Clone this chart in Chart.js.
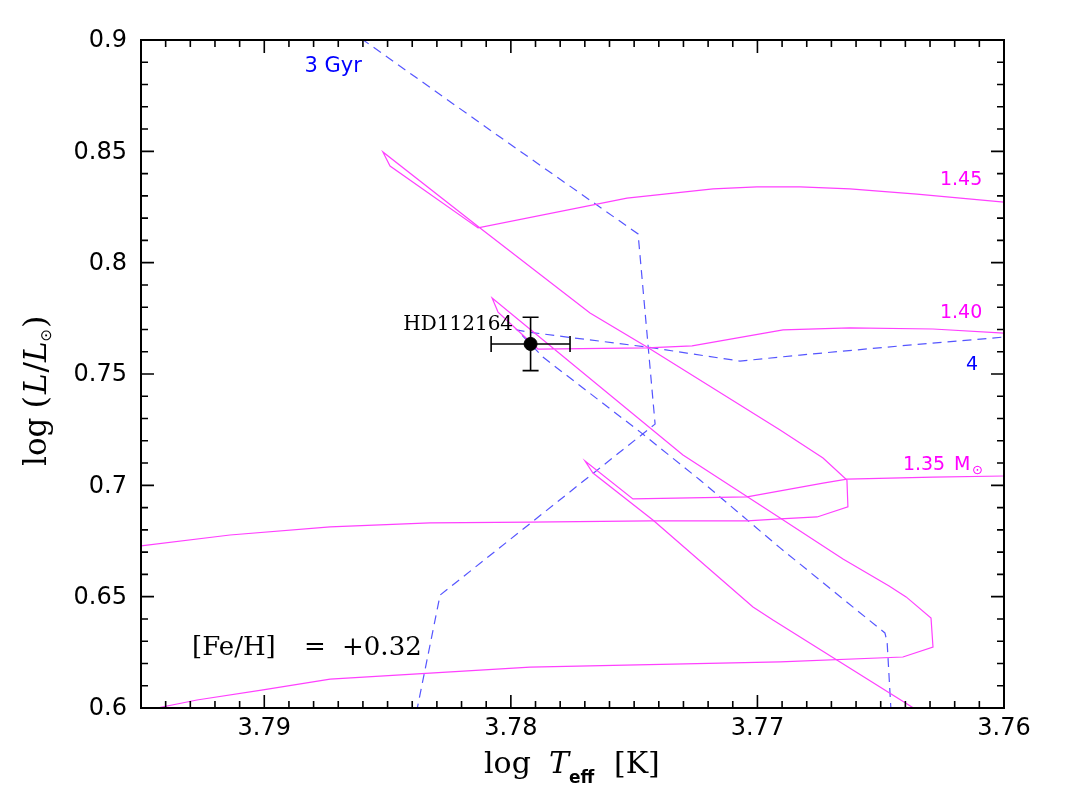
<!DOCTYPE html>
<html><head><meta charset="utf-8">
<script src="https://cdn.jsdelivr.net/npm/chart.js@4.4.1/dist/chart.umd.min.js"></script>
<style>html,body{margin:0;padding:0;background:#fff}canvas{display:block}</style>
</head><body>
<canvas id="c" width="1067" height="797"></canvas>
<script>
// ---- data (log Teff, log L/Lsun) ----
const track145T = [3.7950,3.79139,3.78733,3.78328,3.77922,3.77436,3.77042,3.76908,3.76758,3.76633,3.76637,3.76734,3.76908,3.77448,3.77679,3.78125,3.78519,3.78490,3.78133,3.77529,3.77180,3.77002,3.76827,3.76625,3.76353,3.7600];
const track145L = [0.6728,0.6777,0.6813,0.6831,0.6835,0.6840,0.6840,0.6849,0.6858,0.6903,0.7024,0.7123,0.7249,0.7621,0.7774,0.8156,0.8497,0.8434,0.8156,0.8290,0.8331,0.8340,0.8340,0.8331,0.8308,0.8272];
const track140T = [3.7950,3.79435,3.79273,3.79005,3.78733,3.78328,3.77922,3.76908,3.76410,3.76288,3.76296,3.76397,3.76466,3.76653,3.76908,3.77302,3.78076,3.78052,3.77890,3.77448,3.77265,3.76896,3.76625,3.76288,3.7600];
const track140L = [0.5987,0.6000,0.6036,0.6081,0.6130,0.6157,0.6184,0.6207,0.6229,0.6274,0.6404,0.6499,0.6548,0.6669,0.6853,0.7136,0.7841,0.7778,0.7612,0.7617,0.7626,0.7698,0.7707,0.7702,0.7684];
const track135T = [3.76341,3.76937,3.77018,3.77424,3.77667,3.77699,3.77505,3.77042,3.76734,3.76637,3.76288,3.7600];
const track135L = [0.5982,0.6395,0.6454,0.6844,0.7055,0.7109,0.6939,0.6948,0.7010,0.7028,0.7037,0.7042];
const iso3T = [3.78656,3.78044,3.77484,3.77415,3.78287,3.78385];
const iso3L = [0.9045,0.8564,0.8129,0.7275,0.6507,0.5969];
const iso4T = [3.76458,3.76474,3.76483,3.76908,3.77233,3.77476,3.77870,3.77975,3.77934,3.77772,3.77448,3.77286,3.77071,3.76827,3.76422,3.7600];
const iso4L = [0.5982,0.6296,0.6337,0.6719,0.7024,0.7240,0.7576,0.7698,0.7689,0.7666,0.7621,0.7594,0.7558,0.7585,0.7626,0.7666];
const starT = [3.7792];
const starL = [0.7635];
const starTErr = [0.0016];
const starLErr = [0.012];

const xTicks = [3.79,3.78,3.77,3.76];
const xTickLabels = ['3.79','3.78','3.77','3.76'];
const yTicks = [0.6,0.65,0.7,0.75,0.8,0.85,0.9];
const yTickLabels = ['0.6','0.65','0.7','0.75','0.8','0.85','0.9'];

// ---- styling / layout ----
const MAG = '#ff40ff', MAGTXT = '#ff00ff', BLUE = '#5555ff', BLUETXT = '#0000ff';
function pts(xs, ys){ return xs.map((x,i)=>({x:x, y:ys[i]})); }

const textLabels = [
  {text:'3 Gyr', x:3.78721, y:0.8855, color:BLUETXT, font:'21px "DejaVu Sans"', align:'center'},
  {text:'1.45', x:3.76174, y:0.8349, color:MAGTXT, font:'19px "DejaVu Sans"', align:'center'},
  {text:'1.40', x:3.76174, y:0.7752, color:MAGTXT, font:'19px "DejaVu Sans"', align:'center'},
  {text:'4', x:3.76130, y:0.7518, color:BLUETXT, font:'19px "DejaVu Sans"', align:'center'},
  {text:'HD112164', x:3.77991, y:0.7698, color:'#000', font:'20px "DejaVu Serif"', align:'right'},
];

function seq(ctx, parts, x0, y0){
  let x = x0;
  parts.forEach(p=>{
    ctx.font = p.font;
    ctx.fillText(p.t, x, y0 + (p.dy||0));
    x += ctx.measureText(p.t).width + (p.gap||0);
  });
}

const overlay = {
  id:'overlay',
  afterDatasetsDraw(chart){
    const ctx = chart.ctx, xs = chart.scales.x, ys = chart.scales.y;
    ctx.save();
    ctx.strokeStyle = '#000'; ctx.lineWidth = 1.6;
    for (let i=0;i<starT.length;i++){
      const px = xs.getPixelForValue(starT[i]), py = ys.getPixelForValue(starL[i]);
      const x1 = xs.getPixelForValue(starT[i]+starTErr[i]), x2 = xs.getPixelForValue(starT[i]-starTErr[i]);
      const y1 = ys.getPixelForValue(starL[i]+starLErr[i]), y2 = ys.getPixelForValue(starL[i]-starLErr[i]);
      ctx.beginPath();
      ctx.moveTo(x1,py); ctx.lineTo(x2,py);
      ctx.moveTo(x1,py-8); ctx.lineTo(x1,py+8);
      ctx.moveTo(x2,py-8); ctx.lineTo(x2,py+8);
      ctx.moveTo(px,y1); ctx.lineTo(px,y2);
      ctx.moveTo(px-8,y1); ctx.lineTo(px+8,y1);
      ctx.moveTo(px-8,y2); ctx.lineTo(px+8,y2);
      ctx.stroke();
    }
    ctx.restore();
  },
  afterDraw(chart){
    const ctx = chart.ctx, xs = chart.scales.x, ys = chart.scales.y, a = chart.chartArea;
    ctx.save();
    // frame
    ctx.strokeStyle = '#000'; ctx.lineWidth = 2;
    ctx.strokeRect(a.left, a.top, a.right-a.left, a.bottom-a.top);
    // ticks
    ctx.lineWidth = 1.6;
    ctx.beginPath();
    for (let k=3760;k<=3795;k++){
      const v = k/1000, p = xs.getPixelForValue(v);
      if (p <= a.left+1 || p >= a.right-1) continue;
      const len = (k%10===0) ? 13 : 7;
      ctx.moveTo(p,a.bottom); ctx.lineTo(p,a.bottom-len);
      ctx.moveTo(p,a.top); ctx.lineTo(p,a.top+len);
    }
    for (let k=60;k<=90;k++){
      const v = k/100, p = ys.getPixelForValue(v);
      if (p <= a.top+1 || p >= a.bottom-1) continue;
      const len = (k%5===0) ? 13 : 7;
      ctx.moveTo(a.left,p); ctx.lineTo(a.left+len,p);
      ctx.moveTo(a.right,p); ctx.lineTo(a.right-len,p);
    }
    ctx.stroke();
    // tick labels
    ctx.fillStyle = '#000';
    ctx.font = '24px "DejaVu Sans"';
    ctx.textAlign = 'center'; ctx.textBaseline = 'middle';
    xTicks.forEach((v,i)=>ctx.fillText(xTickLabels[i], xs.getPixelForValue(v), 729));
    ctx.textAlign = 'right';
    yTicks.forEach((v,i)=>ctx.fillText(yTickLabels[i], 127, ys.getPixelForValue(v)+1));
    // in-plot labels
    ctx.textBaseline = 'alphabetic';
    textLabels.forEach(l=>{
      ctx.font = l.font; ctx.fillStyle = l.color; ctx.textAlign = l.align;
      ctx.fillText(l.text, xs.getPixelForValue(l.x), ys.getPixelForValue(l.y));
    });
    // 1.35 Msun label
    ctx.textAlign = 'left'; ctx.fillStyle = MAGTXT;
    let bx = xs.getPixelForValue(3.76410), by = ys.getPixelForValue(0.7069);
    ctx.font = '19px "DejaVu Sans"'; ctx.fillText('1.35', bx, by);
    ctx.fillText('M', bx+51, by);
    ctx.font = '13px "DejaVu Sans"'; ctx.fillText('\u2299', bx+69, by+4);
    // [Fe/H]
    ctx.fillStyle = '#000';
    bx = xs.getPixelForValue(3.79293); by = ys.getPixelForValue(0.6238);
    ctx.font = '26px "DejaVu Serif"';
    ctx.fillText('[Fe/H]', bx, by);
    ctx.fillText('=', bx+112, by);
    ctx.fillText('+0.32', bx+150, by);
    // x title
    ctx.font = '30px "DejaVu Serif"';
    ctx.fillText('log', 484, 773);
    ctx.font = 'italic 30px "DejaVu Serif"';
    ctx.fillText('T', 549, 773);
    ctx.font = 'bold 17px "DejaVu Sans"';
    ctx.fillText('eff', 569, 783);
    ctx.font = '30px "DejaVu Serif"';
    ctx.fillText('[K]', 614, 773);
    // y title
    ctx.save();
    ctx.translate(46, 466); ctx.rotate(-Math.PI/2);
    seq(ctx, [
      {t:'log', font:'31px "DejaVu Serif"', gap:9},
      {t:'(', font:'32px "DejaVu Serif"', gap:2},
      {t:'L', font:'italic 31px "DejaVu Serif"', gap:1},
      {t:'/', font:'31px "DejaVu Serif"', gap:0},
      {t:'L', font:'italic 31px "DejaVu Serif"', gap:0},
      {t:'\u2299', font:'15px "DejaVu Sans"', dy:5, gap:1},
      {t:')', font:'32px "DejaVu Serif"'}
    ], 0, 0);
    ctx.restore();
    ctx.restore();
  }
};

const lineDs = (label, T, L, color, dash, w) => ({
  type:'scatter', label, data:pts(T,L), showLine:true, borderColor:color, backgroundColor:color,
  borderWidth:w, borderDash:dash, pointRadius:0, tension:0, order:2
});

new Chart(document.getElementById('c'), {
  type:'scatter',
  data:{ datasets:[
    lineDs('1.45', track145T, track145L, MAG, [], 1.2),
    lineDs('1.40', track140T, track140L, MAG, [], 1.2),
    lineDs('1.35', track135T, track135L, MAG, [], 1.2),
    lineDs('3 Gyr', iso3T, iso3L, BLUE, [9,6], 1.2),
    lineDs('4 Gyr', iso4T, iso4L, BLUE, [9,6], 1.2),
    { type:'scatter', label:'HD112164', data:pts(starT,starL), pointRadius:6.5, pointBackgroundColor:'#000', pointBorderColor:'#000', showLine:false, order:0 }
  ]},
  options:{
    responsive:false, devicePixelRatio:1, animation:false,
    layout:{ padding:{ left:0, right:63, top:40, bottom:0 } },
    plugins:{ legend:{display:false}, tooltip:{enabled:false} },
    scales:{
      x:{ type:'linear', min:3.76, max:3.795, reverse:true,
          grid:{display:false}, border:{display:false}, ticks:{display:false},
          afterFit(s){ s.height = 89; } },
      y:{ type:'linear', min:0.6, max:0.9,
          grid:{display:false}, border:{display:false}, ticks:{display:false},
          afterFit(s){ s.width = 141; } }
    }
  },
  plugins:[overlay]
});
</script>
</body></html>
